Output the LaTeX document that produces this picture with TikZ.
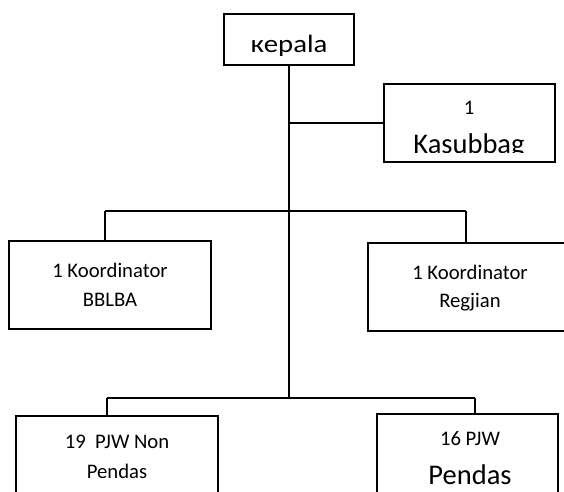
\documentclass[tikz,border=0pt]{standalone}
\usepackage{fontspec}
\setmainfont{Carlito}
\tikzset{
  box/.style={draw, line width=1.6pt, inner sep=0pt, outer sep=0pt, anchor=north west},
  conn/.style={line width=1.6pt},
  txt/.style={inner sep=0pt, anchor=base},
  fs/.style={font=\fontsize{20.7pt}{24pt}\selectfont},
  fl/.style={font=\fontsize{28.5pt}{32pt}\selectfont},
  fk/.style={font=\fontsize{25pt}{28pt}\selectfont}
}
\begin{document}
\begin{tikzpicture}[x=1pt,y=-1pt]
\clip (0,0) rectangle (564,491);
\fill[white] (0,0) rectangle (564,491);
% boxes
\node[box, minimum width=130pt, minimum height=51pt] (kepala) at (224,14) {};
\node[box, minimum width=171pt, minimum height=78pt] (kasubbag) at (384,84) {};
\node[box, minimum width=202pt, minimum height=88pt] (bblba) at (9,241) {};
\node[box, minimum width=204pt, minimum height=88pt] (regjian) at (368,243) {};
\node[box, minimum width=202pt, minimum height=90pt] (nonpendas) at (16,416) {};
\node[box, minimum width=181pt, minimum height=90pt] (pendas) at (377,414) {};
% texts
\node[txt, fk] (tkepala) at (289,52) {\scalebox{1.15}[1]{кepala}};
\node[txt, fs] (tkas1) at (469,114) {1};
\begin{scope}
\clip (384,84) rectangle (555,152);
\node[txt, fl] (tkas2) at (469,153) {Kasubbag};
\end{scope}
\node[txt, fs] (tb1) at (110,277) {1 Koordinator};
\node[txt, fs] (tb2) at (110,306) {BBLBA};
\node[txt, fs] (tr1) at (470,279) {1 Koordinator};
\node[txt, fs] (tr2) at (470,307) {Regjian};
\node[txt, fs] (tn1) at (117,448) {19\ \ PJW Non};
\node[txt, fs] (tn2) at (117,478) {Pendas};
\node[txt, fs] (tp1) at (470,445) {16 PJW};
\node[txt, fl] (tp2) at (470,484) {Pendas};
% junctions
\coordinate (j1) at (289,123);
\coordinate (j2) at (289,211);
\coordinate (j3) at (289,398);
\coordinate (ml) at (105,211);
\coordinate (mr) at (466,211);
\coordinate (ll) at (107,398);
\coordinate (lr) at (475,398);
% connectors
\draw[conn] (kepala.south) -- (j3);
\draw[conn] (j1) -- (j1 -| kasubbag.west);
\draw[conn] (ml) -- (mr);
\draw[conn] (ml) -- (ml |- bblba.north);
\draw[conn] (mr) -- (mr |- regjian.north);
\draw[conn] (ll) -- (lr);
\draw[conn] (ll) -- (ll |- nonpendas.north);
\draw[conn] (lr) -- (lr |- pendas.north);
\end{tikzpicture}
\end{document}
